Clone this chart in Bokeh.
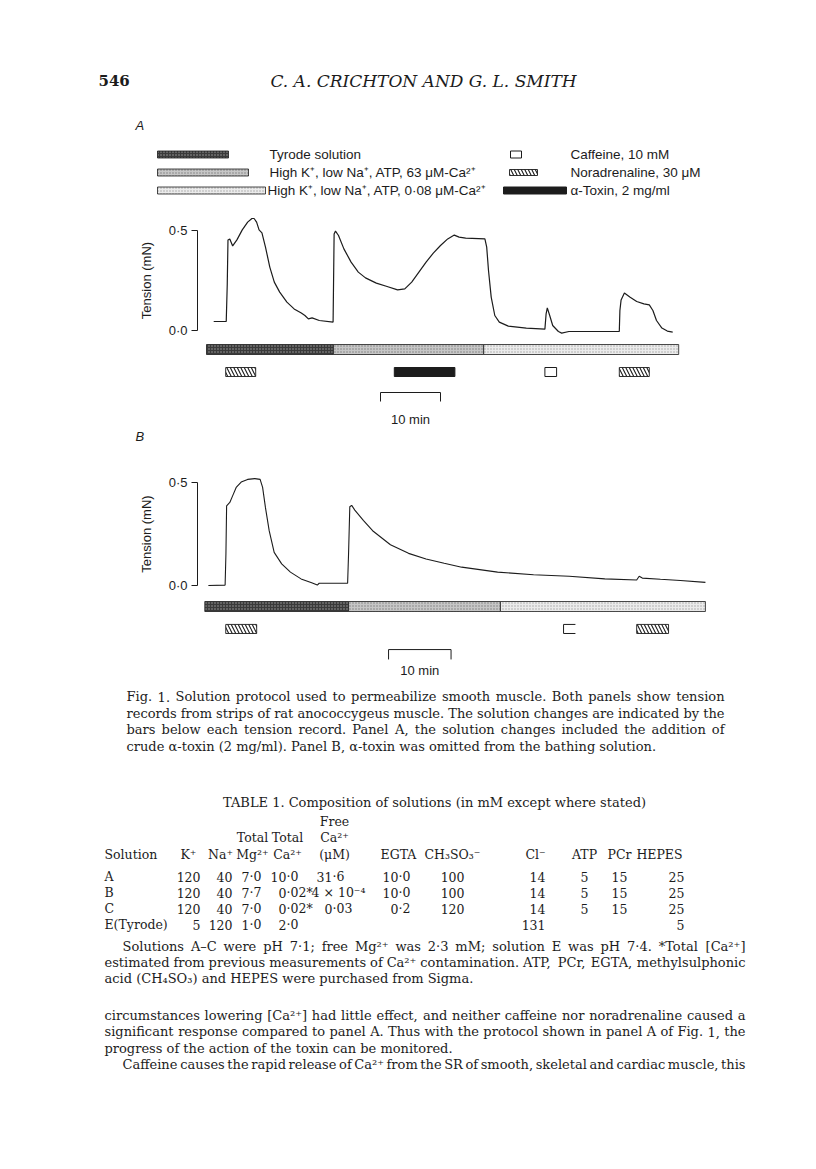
from bokeh.plotting import figure
from bokeh.layouts import column
from bokeh.models import Range1d, FixedTicker
from bokeh.embed import file_html
from bokeh.resources import INLINE
from bokeh.core.properties import value

INK = "#1c1c1c"
SANS = "Liberation Sans"
SERIF = "DejaVu Serif"
W = 800

# ---------------- Panel A: tension record (time in min, tension in mN) ----------------
a_time = [1.2, 3.29, 3.46, 3.58, 3.88, 4.36, 5.07, 5.96, 6.86, 7.57, 7.93, 8.35, 8.76, 9.24, 9.83,
          10.55, 11.3, 12.2, 13.4, 14.6, 15.8, 16.4, 16.98, 17.6, 18.8, 21.1, 21.27, 21.5, 22.0, 22.9,
          24.1, 25.3, 26.5, 28.3, 30.1, 31.85, 33.05, 34.2, 35.4, 36.6, 37.8, 39.0, 40.2, 41.3, 42.1,
          43.2, 46.4, 46.7, 47.0, 47.45, 48.05, 48.8, 50.3, 53.3, 56.4, 56.6, 56.8, 57.2, 57.7, 58.65,
          59.2, 60.4, 68.8, 68.9, 69.1, 69.65, 70.55, 71.7, 72.9, 73.8, 74.4, 75.0, 75.9, 76.8, 77.7]
a_tension = [0.045, 0.045, 0.233, 0.453, 0.458, 0.423, 0.453, 0.503, 0.542, 0.56, 0.56, 0.542, 0.503, 0.488, 0.417,
             0.317, 0.242, 0.192, 0.142, 0.108, 0.087, 0.075, 0.058, 0.063, 0.05, 0.042, 0.483, 0.497, 0.475, 0.408,
             0.342, 0.292, 0.263, 0.237, 0.22, 0.203, 0.208, 0.242, 0.292, 0.342, 0.387, 0.425, 0.458, 0.477, 0.467,
             0.462, 0.458, 0.417, 0.3, 0.167, 0.075, 0.042, 0.022, 0.012, 0.007, 0.083, 0.113, 0.075, 0.025, -0.005,
             -0.013, -0.005, -0.005, 0.1, 0.153, 0.187, 0.167, 0.145, 0.133, 0.128, 0.1, 0.05, 0.012, -0.003, -0.008]
a_sol_start = [0.0, 21.15, 46.2]
a_sol_end = [21.15, 46.2, 78.7]
a_nor_start = [3.2, 68.8]
a_nor_end = [8.2, 73.8]
a_caf_start = [56.4]
a_caf_end = [58.35]
a_tox_start = [31.3]
a_tox_end = [41.4]
a_scale_start = 29.0

# ---------------- Panel B ----------------
b_time = [0.57, 3.25, 3.38, 3.49, 4.0, 4.45, 5.02, 5.82, 6.85, 8.0, 8.85, 9.25, 9.7, 10.3, 11.1,
          12.3, 13.7, 15.4, 17.1, 18.0, 18.3, 22.85, 23.0, 23.2, 23.5, 24.0, 25.4, 26.85, 29.7, 32.6,
          35.4, 38.3, 41.1, 46.85, 52.6, 58.3, 64.0, 69.1, 69.5, 70.0, 72.9, 76.1, 80.1]
b_tension = [0.0, 0.002, 0.153, 0.387, 0.403, 0.435, 0.476, 0.502, 0.515, 0.519, 0.515, 0.476, 0.379, 0.266, 0.161,
             0.105, 0.065, 0.032, 0.013, 0.002, 0.011, 0.011, 0.153, 0.382, 0.389, 0.366, 0.315, 0.266, 0.198, 0.156,
             0.129, 0.108, 0.089, 0.065, 0.052, 0.045, 0.032, 0.027, 0.045, 0.036, 0.03, 0.024, 0.015]
b_sol_start = [0.0, 23.0, 47.3]
b_sol_end = [23.0, 47.3, 80.1]
b_nor_start = [3.35, 69.1]
b_nor_end = [8.3, 74.2]
b_caf_start = [57.4]
b_caf_end = [59.3]
b_scale_start = 29.4

scale_len = 10
tension_ticks = [0.0, 0.5]
tension_tick_labels = ["0·0", "0·5"]

solution_labels = ["Tyrode solution",
                   "High K⁺, low Na⁺, ATP, 63 μM-Ca²⁺",
                   "High K⁺, low Na⁺, ATP, 0·08 μM-Ca²⁺"]
drug_labels = ["Caffeine, 10 mM", "Noradrenaline, 30 μM", "α-Toxin, 2 mg/ml"]

sol_fill = ["#3a3a3a", "#c6c6c6", "#ebebeb"]
sol_hatch_color = ["#a0a0a0", "#7c7c7c", "#a4a4a4"]

caption_lines = [
    "Fig. 1. Solution protocol used to permeabilize smooth muscle. Both panels show tension",
    "records from strips of rat anococcygeus muscle. The solution changes are indicated by the",
    "bars below each tension record. Panel A, the solution changes included the addition of",
    "crude α-toxin (2 mg/ml). Panel B, α-toxin was omitted from the bathing solution.",
]
table_title = "TABLE 1. Composition of solutions (in mM except where stated)"
table_head1 = ["", "", "", "", "", "Free", "", "", "", "", "", ""]
table_head2 = ["", "", "", "Total", "Total", "Ca²⁺", "", "", "", "", "", ""]
table_head3 = ["Solution", "K⁺", "Na⁺", "Mg²⁺", "Ca²⁺", "(μM)", "EGTA", "CH₃SO₃⁻", "Cl⁻", "ATP", "PCr", "HEPES"]
table_rows = [
    ["A", "120", "40", "7·0", "10·0", "31·6", "10·0", "100", "14", "5", "15", "25"],
    ["B", "120", "40", "7·7", "0·02*", "4 × 10⁻⁴", "10·0", "100", "14", "5", "15", "25"],
    ["C", "120", "40", "7·0", "0·02*", "0·03", "0·2", "120", "14", "5", "15", "25"],
    ["E(Tyrode)", "5", "120", "1·0", "2·0", "", "", "", "131", "", "", "5"],
]
foot_lines = [
    "Solutions A–C were pH 7·1; free Mg²⁺ was 2·3 mM; solution E was pH 7·4. *Total [Ca²⁺]",
    "estimated from previous measurements of Ca²⁺ contamination. ATP, PCr, EGTA, methylsulphonic",
    "acid (CH₄SO₃) and HEPES were purchased from Sigma.",
]
body_lines = [
    "circumstances lowering [Ca²⁺] had little effect, and neither caffeine nor noradrenaline caused a",
    "significant response compared to panel A. Thus with the protocol shown in panel A of Fig. 1, the",
    "progress of the action of the toxin can be monitored.",
    "Caffeine causes the rapid release of Ca²⁺ from the SR of smooth, skeletal and cardiac muscle, this",
]

# approximate advance widths (em) of DejaVu Serif, used only to justify lines
CW = {' ': .318, '.': .318, ',': .318, ';': .337, ':': .337, '(': .39, ')': .39, '[': .39, ']': .39,
      '*': .5, '/': .337, '-': .338, '–': .5, '·': .318, '×': .838, 'α': .66, 'μ': .66,
      '²': .4, '⁺': .52, '⁻': .52, '⁴': .4, '₃': .4, '₄': .4}
for ch in "0123456789":
    CW[ch] = .636
CW.update(dict(zip("abcdefghijklmnopqrstuvwxyz",
                   [.596, .64, .56, .64, .592, .37, .64, .644, .32, .31, .606, .32, .948, .644, .602,
                    .64, .64, .478, .513, .402, .644, .565, .856, .564, .565, .527])))
CW.update(dict(zip("ABCDEFGHIJKLMNOPQRSTUVWXYZ",
                   [.722, .735, .765, .802, .73, .694, .799, .872, .395, .401, .747, .664, 1.024, .875, .82,
                    .673, .82, .753, .685, .667, .843, .722, 1.028, .712, .66, .695])))


def text_w(s, size):
    return sum(CW.get(ch, .6) for ch in s) * size


def base_fig(fw, fh, xr, yr, left=0, right=0, yaxis=False):
    p = figure(frame_width=fw, frame_height=fh, x_range=xr, y_range=yr, output_backend="svg",
               toolbar_location=None, x_axis_location=None,
               y_axis_location=("left" if yaxis else None),
               min_border_left=left, min_border_right=right, min_border_top=0, min_border_bottom=0)
    try:
        p.frame_align = False
    except Exception:
        pass
    p.outline_line_color = None
    p.xgrid.visible = False
    p.ygrid.visible = False
    p.background_fill_color = "white"
    p.border_fill_color = "white"
    return p


def text_fig(top, bottom):
    return base_fig(W, bottom - top, Range1d(0, W), Range1d(bottom, top))


def put(p, xs, ys, txts, font=SERIF, size="13px", align="left", style="normal", color=INK):
    p.text(x=xs, y=ys, text=txts, text_font=value(font), text_font_size=size, text_align=align,
           text_baseline="middle", text_font_style=style, text_color=color)


def put_par(p, lines, lefts, right, ys, justify, size=13):
    L, R = ([], [], []), ([], [], [])
    for line, x0, y, just in zip(lines, lefts, ys, justify):
        words = line.split(" ")
        if not just:
            L[0].append(x0); L[1].append(y); L[2].append(line)
            continue
        ws = [text_w(w, size) for w in words]
        gap = (right - x0 - sum(ws)) / (len(words) - 1)
        x = x0
        for i, (w, wd) in enumerate(zip(words, ws)):
            if i == len(words) - 1:
                R[0].append(right); R[1].append(y); R[2].append(w)
            else:
                L[0].append(x); L[1].append(y); L[2].append(w)
            x += wd + gap
    put(p, L[0], L[1], L[2], size=f"{size}px")
    if R[0]:
        put(p, R[0], R[1], R[2], size=f"{size}px", align="right")


def style_axis(p):
    ax = p.yaxis[0]
    ax.ticker = FixedTicker(ticks=tension_ticks)
    ax.major_label_overrides = {t: s for t, s in zip(tension_ticks, tension_tick_labels)}
    ax.bounds = (tension_ticks[0], tension_ticks[-1])
    ax.major_tick_out = 6
    ax.major_tick_in = 0
    ax.minor_tick_out = 0
    ax.minor_tick_in = 0
    ax.axis_line_color = INK
    ax.major_tick_line_color = INK
    ax.major_label_text_font = SANS
    ax.major_label_text_font_size = "13px"
    ax.major_label_text_color = INK
    ax.major_label_standoff = 4
    ax.axis_label = "Tension (mN)"
    ax.axis_label_text_font = SANS
    ax.axis_label_text_font_style = "normal"
    ax.axis_label_text_font_size = "13px"
    ax.axis_label_text_color = INK
    ax.axis_label_standoff = 12


def solution_bar(p, starts, ends, bottom, top):
    p.quad(left=starts, right=ends, bottom=bottom, top=top, fill_color=sol_fill,
           hatch_pattern=".", hatch_color=sol_hatch_color, hatch_scale=3, hatch_weight=1,
           line_color=INK, line_width=0.8)


def hatched(p, starts, ends, bottom, top):
    p.quad(left=starts, right=ends, bottom=bottom, top=top, fill_color="white",
           hatch_pattern="\\", hatch_color=INK, hatch_scale=7, hatch_weight=1.1,
           line_color=INK, line_width=0.9)


def scale_bar(p, start, y_top, y_low, y_txt):
    p.line([start, start, start + scale_len, start + scale_len], [y_low, y_top, y_top, y_low],
           line_color=INK, line_width=1)
    put(p, [start + scale_len / 2], [y_txt], ["10 min"], font=SANS, size="13px", align="center")


# ---------------- header + legend (page pixel coords) ----------------
f1 = text_fig(0, 200)
put(f1, [98], [80], ["546"], size="15px", style="bold")
put(f1, [423], [80], ["C. A. CRICHTON AND G. L. SMITH"], size="17px", style="italic", align="center")
put(f1, [135], [125], ["A"], font=SANS, size="13px", style="italic")
row_y = [154, 172, 190]
f1.quad(left=[157, 157, 157], right=[228, 248, 265], bottom=[y + 3.5 for y in row_y],
        top=[y - 3.5 for y in row_y], fill_color=sol_fill, hatch_pattern=".",
        hatch_color=sol_hatch_color, hatch_scale=3, line_color=INK, line_width=0.8)
put(f1, [269, 269, 267], row_y, solution_labels, font=SANS, size="13.5px")
f1.quad(left=[510], right=[521], bottom=[row_y[0] + 3.5], top=[row_y[0] - 3.5],
        fill_color="white", line_color=INK, line_width=1)
hatched(f1, [509], [537], [row_y[1] + 3], [row_y[1] - 3])
f1.quad(left=[503], right=[566], bottom=[row_y[2] + 3.5], top=[row_y[2] - 3.5],
        fill_color=INK, line_color=INK)
put(f1, [570, 570, 570], row_y, drug_labels, font=SANS, size="13.5px")

# ---------------- panel A ----------------
AXIS_X, FRAME_R = 197, 728
FW = FRAME_R - AXIS_X
PX_A, T0_A = 6.0, 206
xA = Range1d((AXIS_X - T0_A) / PX_A, (FRAME_R - T0_A) / PX_A)
fA = base_fig(FW, 160, xA, Range1d(-0.15, 0.65), left=AXIS_X, right=W - FRAME_R, yaxis=True)
style_axis(fA)
fA.line(a_time, a_tension, line_color=INK, line_width=1.2)
solution_bar(fA, a_sol_start, a_sol_end, -0.12, -0.07)

fA2 = base_fig(FW, 68, xA, Range1d(-0.49, -0.15), left=AXIS_X, right=W - FRAME_R)
hatched(fA2, a_nor_start, a_nor_end, -0.23, -0.185)
fA2.quad(left=a_tox_start, right=a_tox_end, bottom=-0.23, top=-0.185, fill_color=INK, line_color=INK)
fA2.quad(left=a_caf_start, right=a_caf_end, bottom=-0.23, top=-0.185, fill_color="white",
         line_color=INK, line_width=1)
scale_bar(fA2, a_scale_start, -0.31, -0.355, -0.445)

# ---------------- strip with panel letter B ----------------
fs = text_fig(428, 445)
put(fs, [135], [436], ["B"], font=SANS, size="13px", style="italic")

# ---------------- panel B ----------------
PX_B, T0_B = 6.25, 204.3
xB = Range1d((AXIS_X - T0_B) / PX_B, (FRAME_R - T0_B) / PX_B)
fB = base_fig(FW, 177, xB, Range1d(-0.1796, 0.6796), left=AXIS_X, right=W - FRAME_R, yaxis=True)
style_axis(fB)
fB.line(b_time, b_tension, line_color=INK, line_width=1.1)
solution_bar(fB, b_sol_start, b_sol_end, -0.1262, -0.0777)

fB2 = base_fig(FW, 58, xB, Range1d(-0.4612, -0.1796), left=AXIS_X, right=W - FRAME_R)
hatched(fB2, b_nor_start, b_nor_end, -0.233, -0.189)
fB2.multi_line(xs=[[e, s, s, e] for s, e in zip(b_caf_start, b_caf_end)],
               ys=[[-0.189, -0.189, -0.233, -0.233] for _ in b_caf_start], line_color=INK, line_width=1)
scale_bar(fB2, b_scale_start, -0.311, -0.359, -0.4126)

# ---------------- caption, table and text ----------------
f4 = text_fig(680, 1153)
put_par(f4, caption_lines, [126] * 4, 724, [696, 713, 729, 746], [True, True, True, False])
put(f4, [434], [802], [table_title], align="center")

TS = "12.5px"
col_center = [104, 188, 220, 252, 287, 334, 398, 452, 535, 584, 619, 659]
col_kind = ["left", "right", "right", "dec", "dec", "dec", "dec", "right", "right", "center", "center", "right"]
col_anchor = [104, 200, 232, 249, 286, 332, 398, 464, 545, 584, 619, 684]
hy = [821, 837, 854]
for hrow, yy in zip([table_head1, table_head2, table_head3], hy):
    xs = [col_center[i] for i, h in enumerate(hrow) if h and i > 0]
    tx = [h for i, h in enumerate(hrow) if h and i > 0]
    if tx:
        put(f4, xs, [yy] * len(xs), tx, size=TS, align="center")
put(f4, [104], [hy[2]], [table_head3[0]], size=TS)

row_ys = [876, 892, 908, 924]
L, R, C = ([], [], []), ([], [], []), ([], [], [])
for row, yy in zip(table_rows, row_ys):
    for i, cell in enumerate(row):
        if not cell:
            continue
        kind, ax_ = col_kind[i], col_anchor[i]
        if kind == "left":
            tgt = [(L, ax_, cell)]
        elif kind == "right":
            tgt = [(R, ax_, cell)]
        elif kind == "center":
            tgt = [(C, ax_, cell)]
        elif "·" in cell:
            k = cell.index("·")
            tgt = [(R, ax_, cell[:k]), (L, ax_, cell[k:])]
        else:
            tgt = [(C, col_center[i] + 4, cell)]
        for grp, xx, tt in tgt:
            grp[0].append(xx)
            grp[1].append(yy)
            grp[2].append(tt)
put(f4, L[0], L[1], L[2], size=TS, align="left")
put(f4, R[0], R[1], R[2], size=TS, align="right")
put(f4, C[0], C[1], C[2], size=TS, align="center")

put_par(f4, foot_lines, [122, 104, 104], 745, [946, 962, 978], [True, True, False])
put_par(f4, body_lines, [104, 104, 104, 122], 745, [1015, 1031, 1048, 1064], [True, True, False, True])

page = column(f1, fA, fA2, fs, fB, fB2, f4)
open("out.html", "w").write(file_html(page, INLINE))
